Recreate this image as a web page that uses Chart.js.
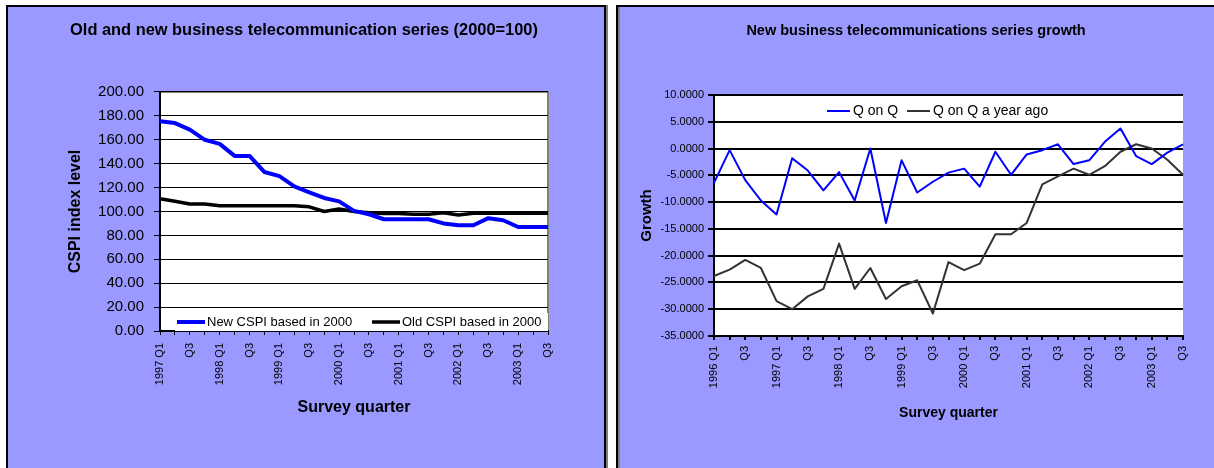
<!DOCTYPE html>
<html>
<head>
<meta charset="utf-8">
<script src="https://cdn.jsdelivr.net/npm/chart.js@4.4.0/dist/chart.umd.min.js"></script>
<style>
  body { margin: 0; background: #fff; width: 1214px; height: 468px; overflow: hidden; position: relative; }
  .panel { position: absolute; top: 5px; background: #9999ff; border: 2px solid #000; }
  #leftPanel { left: 6px; width: 596px; height: 470px; box-shadow: 2px 0 0 #808080; }
  #rightPanel { left: 616px; width: 610px; height: 470px; box-shadow: inset 2px 0 0 #808080; }
  canvas { position: absolute; left: 0; top: 0; }
</style>
</head>
<body>
<div class="panel" id="leftPanel"><canvas id="indexChart" width="596" height="461"></canvas></div>
<div class="panel" id="rightPanel"><canvas id="growthChart" width="596" height="461"></canvas></div>
<script>
// left chart: index levels, 1997 Q1 - 2003 Q3
const indexQuarters = [
  '1997 Q1', '1997 Q2', '1997 Q3', '1997 Q4', '1998 Q1', '1998 Q2', '1998 Q3', '1998 Q4',
  '1999 Q1', '1999 Q2', '1999 Q3', '1999 Q4', '2000 Q1', '2000 Q2', '2000 Q3', '2000 Q4',
  '2001 Q1', '2001 Q2', '2001 Q3', '2001 Q4', '2002 Q1', '2002 Q2', '2002 Q3', '2002 Q4',
  '2003 Q1', '2003 Q2', '2003 Q3'
];
const indexTickLabels = [
  '1997 Q1', '', 'Q3', '', '1998 Q1', '', 'Q3', '', '1999 Q1', '', 'Q3', '', '2000 Q1', '',
  'Q3', '', '2001 Q1', '', 'Q3', '', '2002 Q1', '', 'Q3', '', '2003 Q1', '', 'Q3'
];
const newCspi = [175.5, 174, 168.5, 160, 156.6, 146.5, 146.5, 133, 129.6, 121, 116, 111.3, 108.5, 100.5,
  97.7, 93.5, 93.5, 93.5, 93.5, 90, 88.5, 88.5, 94.4, 92.7, 87, 87, 87];
const oldCspi = [110.7, 108.5, 106.3, 106.3, 104.8, 104.8, 104.8, 104.8, 104.8, 104.8, 103.9, 100, 102, 100,
  99, 98.3, 98.3, 97.7, 97.7, 99, 97, 98.6, 98.6, 98.6, 98.6, 98.6, 98.6];

// right chart: growth, 1996 Q1 - 2003 Q3
const growthQuarters = [
  '1996 Q1', '1996 Q2', '1996 Q3', '1996 Q4', '1997 Q1', '1997 Q2', '1997 Q3', '1997 Q4',
  '1998 Q1', '1998 Q2', '1998 Q3', '1998 Q4', '1999 Q1', '1999 Q2', '1999 Q3', '1999 Q4',
  '2000 Q1', '2000 Q2', '2000 Q3', '2000 Q4', '2001 Q1', '2001 Q2', '2001 Q3', '2001 Q4',
  '2002 Q1', '2002 Q2', '2002 Q3', '2002 Q4', '2003 Q1', '2003 Q2', '2003 Q3'
];
const growthTickLabels = [
  '1996 Q1', '', 'Q3', '', '1997 Q1', '', 'Q3', '', '1998 Q1', '', 'Q3', '', '1999 Q1', '', 'Q3', '',
  '2000 Q1', '', 'Q3', '', '2001 Q1', '', 'Q3', '', '2002 Q1', '', 'Q3', '', '2003 Q1', '', 'Q3'
];
const qOnQ = [-6.4, -0.3, -5.9, -9.7, -12.3, -1.8, -4.1, -7.8, -4.4, -9.7, 0.0, -13.9, -2.2, -8.2,
  -6.2, -4.5, -3.75, -7.1, -0.6, -4.9, -1.1, -0.3, 0.8, -2.9, -2.2, 1.25, 3.75, -1.4, -2.9, -0.75, 0.8];
const qOnQYearAgo = [-23.8, -22.6, -20.8, -22.3, -28.5, -30.0, -27.6, -26.2, -17.75, -26.2, -22.3, -28.1,
  -25.7, -24.6, -30.8, -21.2, -22.7, -21.5, -16.0, -16.0, -13.9, -6.7, -5.2, -3.75, -4.9, -3.3, -0.6,
  0.8, 0.0, -2.1, -4.9];

Chart.defaults.font.family = "'Liberation Sans', Arial, sans-serif";
Chart.defaults.color = '#000';

// white plot area, optional grey edge on top/right
const plotBg = {
  id: 'plotBg',
  beforeDraw(chart, args, opts) {
    const { ctx, chartArea: a } = chart;
    ctx.save();
    ctx.fillStyle = '#fff';
    ctx.fillRect(a.left, a.top, a.right - a.left, a.bottom - a.top);
    if (opts.edge) {
      ctx.strokeStyle = opts.edge;
      ctx.lineWidth = 2;
      ctx.beginPath();
      ctx.moveTo(a.left, a.top);
      ctx.lineTo(a.right, a.top);
      ctx.lineTo(a.right, a.bottom);
      ctx.stroke();
    }
    ctx.restore();
  }
};

// legend drawn inside the plot, like the excel one
const boxLegend = {
  id: 'boxLegend',
  afterDraw(chart, args, o) {
    const ctx = chart.ctx;
    ctx.save();
    if (o.box) {
      ctx.fillStyle = '#fff';
      ctx.fillRect(o.box[0], o.box[1], o.box[2], o.box[3]);
    }
    ctx.font = o.font;
    ctx.textBaseline = 'middle';
    chart.data.datasets.forEach((ds, i) => {
      const x = o.x[i];
      ctx.strokeStyle = ds.borderColor;
      ctx.lineWidth = ds.borderWidth;
      ctx.beginPath();
      ctx.moveTo(x, o.y);
      ctx.lineTo(x + o.sample, o.y);
      ctx.stroke();
      ctx.fillStyle = '#000';
      ctx.fillText(ds.label, x + o.sample + o.gap, o.y);
    });
    ctx.restore();
  }
};

new Chart(document.getElementById('indexChart'), {
  type: 'line',
  data: {
    labels: indexQuarters,
    datasets: [
      { label: 'New CSPI based in 2000', data: newCspi, borderColor: '#0000ff', borderWidth: 4 },
      { label: 'Old CSPI based in 2000', data: oldCspi, borderColor: '#000000', borderWidth: 3.5 }
    ]
  },
  options: {
    responsive: false,
    animation: false,
    layout: { padding: { left: 52, right: 56, top: 0, bottom: 0 } },
    elements: { point: { radius: 0 }, line: { tension: 0, borderJoinStyle: 'round' } },
    plugins: {
      legend: { display: false },
      tooltip: { enabled: false },
      title: {
        display: true,
        text: 'Old and new business telecommunication series (2000=100)',
        color: '#000',
        font: { size: 16.4, weight: 'bold' },
        padding: { top: 13.9, bottom: 51.4 }
      },
      plotBg: { edge: '#808080' },
      boxLegend: { box: [167, 306, 373, 18], x: [169, 364], y: 315, sample: 28, gap: 2, font: "13px 'Liberation Sans', Arial, sans-serif" }
    },
    scales: {
      x: {
        offset: false,
        afterFit(s) { s.height = 137; },
        grid: { drawOnChartArea: false, color: '#000', tickLength: 4 },
        border: { color: '#000', width: 2 },
        ticks: {
          autoSkip: false, maxRotation: 90, minRotation: 90, padding: 8,
          font: { size: 11 },
          callback: (v, i) => indexTickLabels[i]
        },
        title: { display: true, text: 'Survey quarter', font: { size: 16, weight: 'bold' }, padding: { top: 0, bottom: 50.7 } }
      },
      y: {
        min: 0, max: 200,
        afterFit(s) { s.width = 100; },
        grid: { color: '#000', tickLength: 6 },
        border: { color: '#000', width: 2 },
        ticks: { stepSize: 20, padding: 10, font: { size: 15 }, callback: v => v.toFixed(2) },
        title: { display: true, text: 'CSPI index level', font: { size: 16, weight: 'bold' }, padding: { top: 6.4, bottom: 0 } }
      }
    }
  },
  plugins: [plotBg, boxLegend]
});

new Chart(document.getElementById('growthChart'), {
  type: 'line',
  data: {
    labels: growthQuarters,
    datasets: [
      { label: 'Q on Q', data: qOnQ, borderColor: '#0000ff', borderWidth: 2 },
      { label: 'Q on Q a year ago', data: qOnQYearAgo, borderColor: '#333333', borderWidth: 2 }
    ]
  },
  options: {
    responsive: false,
    animation: false,
    layout: { padding: { left: 31, right: 31, top: 0, bottom: 0 } },
    elements: { point: { radius: 0 }, line: { tension: 0, borderJoinStyle: 'round' } },
    plugins: {
      legend: { display: false },
      tooltip: { enabled: false },
      title: {
        display: true,
        text: 'New business telecommunications series growth',
        color: '#000',
        font: { size: 14.5, weight: 'bold' },
        padding: { top: 15, bottom: 55.6 }
      },
      plotBg: {},
      boxLegend: { x: [209, 289], y: 104, sample: 23, gap: 3, font: "14px 'Liberation Sans', Arial, sans-serif" }
    },
    scales: {
      x: {
        offset: false,
        afterFit(s) { s.height = 132; },
        grid: { drawOnChartArea: false, color: '#000', tickLength: 4, lineWidth: 2 },
        border: { color: '#000', width: 2 },
        ticks: {
          autoSkip: false, maxRotation: 90, minRotation: 90, padding: 6,
          font: { size: 11 },
          callback: (v, i) => growthTickLabels[i]
        },
        title: { display: true, text: 'Survey quarter', font: { size: 14, weight: 'bold' }, padding: { top: 0, bottom: 46.2 } }
      },
      y: {
        min: -35, max: 10,
        afterFit(s) { s.width = 65; },
        grid: { color: '#000', tickLength: 6, lineWidth: 2 },
        border: { color: '#000', width: 2 },
        ticks: { stepSize: 5, padding: 4, font: { size: 11 }, callback: v => v.toFixed(4) },
        title: { display: true, text: 'Growth', font: { size: 15, weight: 'bold' }, padding: { top: -11.3, bottom: 0 } }
      }
    }
  },
  plugins: [plotBg, boxLegend]
});
</script>
</body>
</html>
